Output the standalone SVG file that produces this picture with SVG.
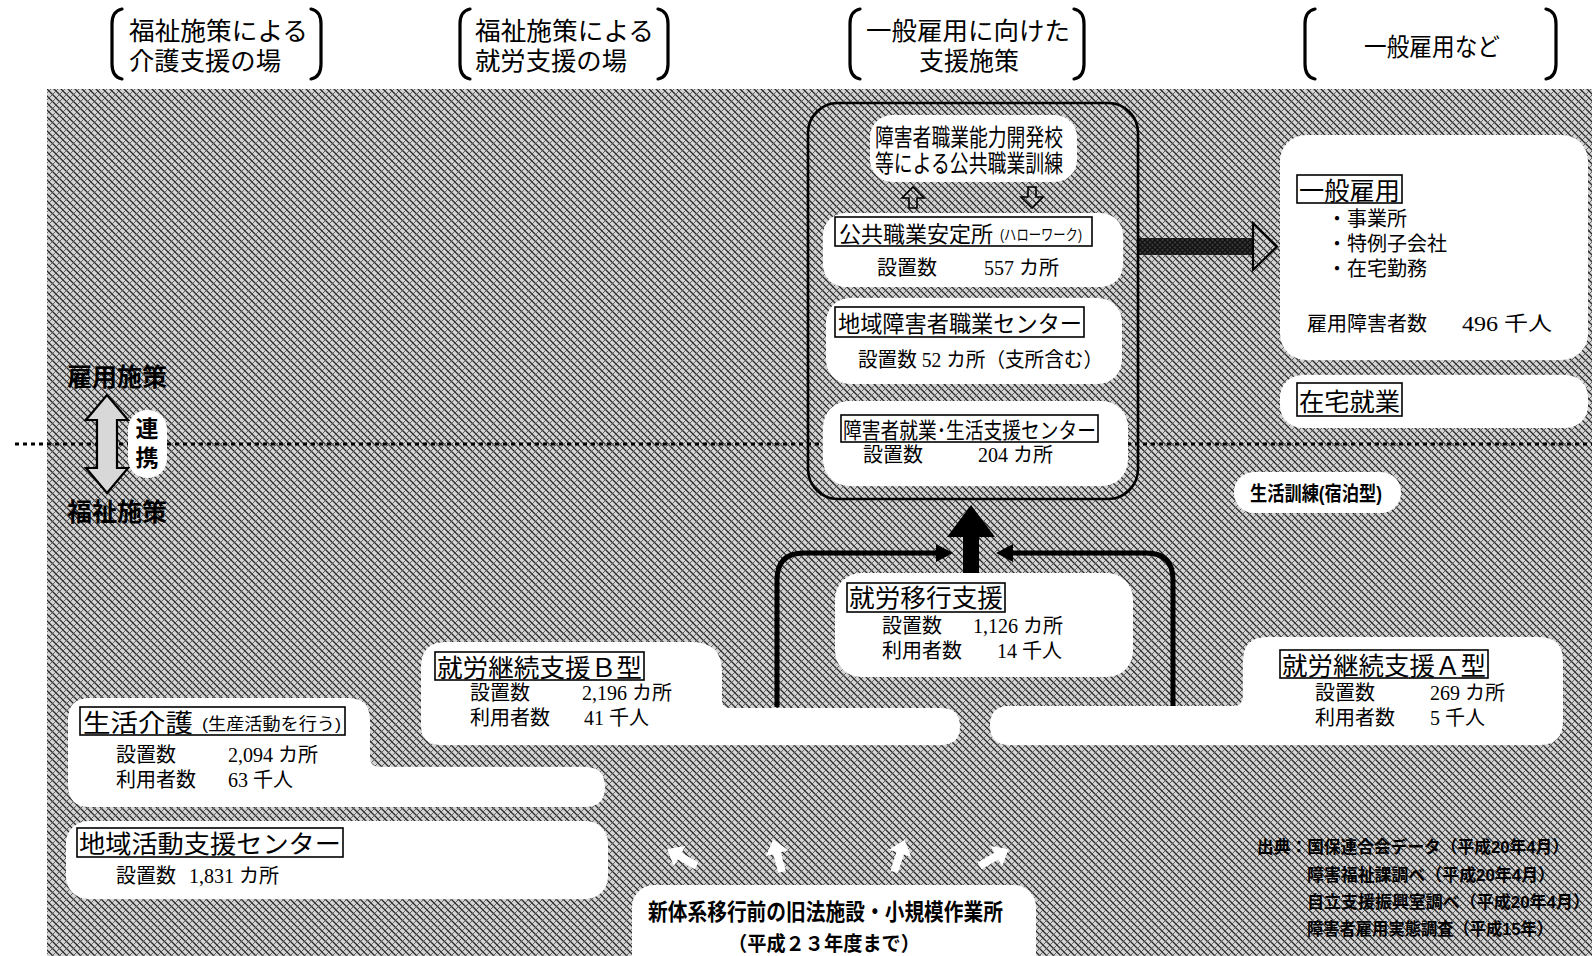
<svg xmlns="http://www.w3.org/2000/svg" width="1592" height="956" viewBox="0 0 1592 956">
<defs>
<pattern id="hatch" width="7" height="7" patternUnits="userSpaceOnUse">
<rect width="7" height="7" fill="#d4d4d4"/>
<path d="M0,0 L7,7 M-1,6 L1,8 M6,-1 L8,1" stroke="#2a2a2a" stroke-width="1.3"/>
<path d="M7,0 L0,7 M-1,1 L1,-1 M6,8 L8,6" stroke="#555" stroke-width="0.9"/>
</pattern>
<pattern id="hatchDark" width="5" height="5" patternUnits="userSpaceOnUse">
<rect width="5" height="5" fill="#3a3a3a"/>
<path d="M0,0 L5,5 M5,0 L0,5" stroke="#111" stroke-width="1.4"/>
</pattern>
<style>
.g{font-family:"Liberation Sans","Noto Sans CJK JP","Noto Sans CJK SC",sans-serif;fill:#000}
.m{font-family:"Liberation Serif","Noto Sans CJK JP",serif;font-size:20px;fill:#000}
.b{font-weight:bold}
.blob{fill:#fff}
.tb{fill:#fff;stroke:#000;stroke-width:1.6}
.br{fill:none;stroke:#000;stroke-width:3.2;stroke-linecap:round}
.ln{fill:none;stroke:#000;stroke-width:5}
.sa{fill:#fff}
</style>
</defs>

<rect width="1592" height="956" fill="#fff"/>
<rect x="47" y="89" width="1545" height="867" fill="url(#hatch)"/>

<!-- headers -->
<g id="hdr1">
<path class="br" d="M122,9 Q112,11 112,24 V64 Q112,77 122,79"/>
<path class="br" d="M311,9 Q321,11 321,24 V64 Q321,77 311,79"/>
<text class="g" font-size="25"><tspan x="129" y="40" textLength="179" lengthAdjust="spacingAndGlyphs">福祉施策による</tspan><tspan x="129" y="70" textLength="152" lengthAdjust="spacingAndGlyphs">介護支援の場</tspan></text>
</g>
<g id="hdr2">
<path class="br" d="M470,9 Q460,11 460,24 V64 Q460,77 470,79"/>
<path class="br" d="M658,9 Q668,11 668,24 V64 Q668,77 658,79"/>
<text class="g" font-size="25"><tspan x="475" y="40" textLength="179" lengthAdjust="spacingAndGlyphs">福祉施策による</tspan><tspan x="475" y="70" textLength="152" lengthAdjust="spacingAndGlyphs">就労支援の場</tspan></text>
</g>
<g id="hdr3">
<path class="br" d="M860,9 Q850,11 850,24 V64 Q850,77 860,79"/>
<path class="br" d="M1074,9 Q1084,11 1084,24 V64 Q1084,77 1074,79"/>
<text class="g" font-size="25"><tspan x="866" y="40" textLength="204" lengthAdjust="spacingAndGlyphs">一般雇用に向けた</tspan><tspan x="919" y="70">支援施策</tspan></text>
</g>
<g id="hdr4">
<path class="br" d="M1315,9 Q1305,11 1305,24 V64 Q1305,77 1315,79"/>
<path class="br" d="M1546,9 Q1556,11 1556,24 V64 Q1556,77 1546,79"/>
<text class="g" x="1364" y="56" font-size="25" textLength="136" lengthAdjust="spacingAndGlyphs">一般雇用など</text>
</g>

<!-- dotted divider -->
<line x1="15" y1="444" x2="1592" y2="444" stroke="#000" stroke-width="3" stroke-dasharray="4 4"/>

<!-- connectors -->
<g id="connectors">
<path class="ln" d="M777,707 V580 Q777,553 804,553 H940"/>
<polygon points="936,544 953,553 936,562" fill="#000"/>
<path class="ln" d="M1173,707 V580 Q1173,553 1146,553 H1009"/>
<polygon points="1013,544 996,553 1013,562" fill="#000"/>
<polygon points="963,575 963,537 947,537 971,505 995,537 979,537 979,575" fill="#000"/>
<rect x="1137" y="238" width="117" height="17" fill="url(#hatchDark)"/>
<polygon points="1253,223 1277,246.5 1253,270" fill="url(#hatch)" stroke="#000" stroke-width="2.2"/>
<polygon points="913,187 902,198 909,198 909,208 917,208 917,198 924,198" fill="url(#hatch)" stroke="#000" stroke-width="1.6"/>
<polygon points="1032,208 1021,197 1028,197 1028,187 1036,187 1036,197 1043,197" fill="url(#hatch)" stroke="#000" stroke-width="1.6"/>
<polygon points="107,395 128,420 117,420 117,468 128,468 107,493 86,468 97,468 97,420 86,420" fill="#d8d8d8" stroke="#000" stroke-width="2.2"/>
<polygon class="sa" transform="translate(683,858) rotate(-60) scale(1.3)" points="0,-14 -9,-3 -3,-3 -3,12 3,12 3,-3 9,-3"/>
<polygon class="sa" transform="translate(778,857) rotate(-15) scale(1.3)" points="0,-14 -9,-3 -3,-3 -3,12 3,12 3,-3 9,-3"/>
<polygon class="sa" transform="translate(899,857) rotate(18) scale(1.3)" points="0,-14 -9,-3 -3,-3 -3,12 3,12 3,-3 9,-3"/>
<polygon class="sa" transform="translate(993,858) rotate(60) scale(1.3)" points="0,-14 -9,-3 -3,-3 -3,12 3,12 3,-3 9,-3"/>
</g>

<!-- central support box -->
<g id="supportBox">
<rect x="808" y="103" width="330" height="396" rx="30" fill="none" stroke="#000" stroke-width="2.6"/>
</g>
<g id="training">
<rect class="blob" x="870" y="115" width="207" height="67" rx="22"/>
<text class="g" font-size="24"><tspan x="875" y="146" textLength="188" lengthAdjust="spacingAndGlyphs">障害者職業能力開発校</tspan><tspan x="875" y="172" textLength="188" lengthAdjust="spacingAndGlyphs">等による公共職業訓練</tspan></text>
</g>
<g id="hellowork">
<rect class="blob" x="823" y="213" width="300" height="74" rx="22"/>
<rect class="tb" x="835" y="217" width="257" height="29"/>
<text class="g" x="839" y="242" font-size="22" textLength="154" lengthAdjust="spacingAndGlyphs">公共職業安定所</text>
<text class="g" x="1000" y="240" font-size="15" textLength="82" lengthAdjust="spacingAndGlyphs">(ハローワーク)</text>
<text class="m" x="877" y="275">設置数</text>
<text class="m" x="984" y="275">557 カ所</text>
</g>
<g id="chiikiCenter">
<rect class="blob" x="826" y="298" width="296" height="86" rx="24"/>
<rect class="tb" x="835" y="307" width="249" height="30"/>
<text class="g" x="838" y="332" font-size="23" textLength="244" lengthAdjust="spacingAndGlyphs">地域障害者職業センター</text>
<text class="m" x="858" y="367" textLength="245" lengthAdjust="spacingAndGlyphs">設置数 52 カ所（支所含む）</text>
</g>
<g id="shugyoCenter">
<rect class="blob" x="823" y="401" width="305" height="85" rx="26"/>
<rect class="tb" x="841" y="415" width="257" height="27"/>
<text class="g" x="843" y="438" font-size="22" textLength="253" lengthAdjust="spacingAndGlyphs">障害者就業･生活支援センター</text>
<text class="m" x="863" y="462">設置数</text>
<text class="m" x="978" y="462">204 カ所</text>
</g>

<!-- employment -->
<g id="ippanKoyo">
<rect class="blob" x="1280" y="135" width="308" height="225" rx="26"/>
<rect class="tb" x="1297" y="175" width="105" height="28"/>
<text class="g" x="1299" y="200" font-size="25" textLength="101" lengthAdjust="spacingAndGlyphs">一般雇用</text>
<text class="g" font-size="20"><tspan x="1327" y="226">・事業所</tspan><tspan x="1327" y="251">・特例子会社</tspan><tspan x="1327" y="276">・在宅勤務</tspan></text>
<text class="m" x="1307" y="331">雇用障害者数</text>
<text class="m" x="1462" y="331" textLength="90" lengthAdjust="spacingAndGlyphs">496 千人</text>
</g>
<g id="zaitaku">
<rect class="blob" x="1280" y="375" width="308" height="53" rx="22"/>
<rect class="tb" x="1297" y="383" width="105" height="33"/>
<text class="g" x="1299" y="411" font-size="25" textLength="101" lengthAdjust="spacingAndGlyphs">在宅就業</text>
</g>
<g id="seikatsuKunren">
<rect class="blob" x="1234" y="472" width="167" height="41" rx="20"/>
<text class="g b" x="1250" y="501" font-size="20" textLength="132" lengthAdjust="spacingAndGlyphs">生活訓練(宿泊型)</text>
</g>

<!-- left labels -->
<g id="renkei">
<text class="g b" x="67" y="386" font-size="25" textLength="100" lengthAdjust="spacingAndGlyphs">雇用施策</text>
<text class="g b" x="67" y="521" font-size="25" textLength="100" lengthAdjust="spacingAndGlyphs">福祉施策</text>
<rect class="blob" x="128" y="410" width="39" height="68" rx="19"/>
<text class="g b" font-size="23" text-anchor="middle"><tspan x="147" y="437">連</tspan><tspan x="147" y="466">携</tspan></text>
</g>

<!-- welfare -->
<g id="ikouShien">
<rect class="blob" x="835" y="573" width="298" height="104" rx="26"/>
<rect class="tb" x="847" y="583" width="158" height="29"/>
<text class="g" x="849" y="607" font-size="25" textLength="154" lengthAdjust="spacingAndGlyphs">就労移行支援</text>
<text class="m"><tspan x="882" y="633">設置数</tspan><tspan x="973" y="633">1,126 カ所</tspan><tspan x="882" y="658">利用者数</tspan><tspan x="997" y="658">14 千人</tspan></text>
</g>
<g id="keizokuB">
<path class="blob" d="M446,642 H692 Q722,642 722,672 V700 Q722,708 730,708 H941 Q960,708 960,726.5 Q960,745 941,745 H441 Q421,745 421,725 V667 Q421,642 446,642 Z"/>
<rect class="tb" x="435" y="652" width="209" height="28"/>
<text class="g" x="437" y="677" font-size="25" textLength="205" lengthAdjust="spacingAndGlyphs">就労継続支援Ｂ型</text>
<text class="m"><tspan x="470" y="700">設置数</tspan><tspan x="582" y="700">2,196 カ所</tspan><tspan x="470" y="725">利用者数</tspan><tspan x="584" y="725">41 千人</tspan></text>
</g>
<g id="keizokuA">
<path class="blob" d="M1267,637 H1539 Q1563,637 1563,661 V721 Q1563,745 1539,745 H1009 Q990,745 990,725.5 Q990,706 1009,706 H1233 Q1243,706 1243,696 V661 Q1243,637 1267,637 Z"/>
<rect class="tb" x="1280" y="650" width="208" height="28"/>
<text class="g" x="1282" y="675" font-size="25" textLength="204" lengthAdjust="spacingAndGlyphs">就労継続支援Ａ型</text>
<text class="m"><tspan x="1315" y="700">設置数</tspan><tspan x="1430" y="700">269 カ所</tspan><tspan x="1315" y="725">利用者数</tspan><tspan x="1430" y="725">5 千人</tspan></text>
</g>
<g id="seikatsuKaigo">
<path class="blob" d="M90,698 H348 Q370,698 370,720 V757 Q370,767 380,767 H585 Q605,767 605,787 Q605,807 585,807 H90 Q68,807 68,785 V720 Q68,698 90,698 Z"/>
<rect class="tb" x="80" y="707" width="265" height="28"/>
<text class="g" x="83" y="732" font-size="25" textLength="110" lengthAdjust="spacingAndGlyphs">生活介護</text>
<text class="g" x="202" y="730" font-size="17" textLength="139" lengthAdjust="spacingAndGlyphs">(生産活動を行う)</text>
<text class="m"><tspan x="116" y="762">設置数</tspan><tspan x="228" y="762">2,094 カ所</tspan><tspan x="116" y="787">利用者数</tspan><tspan x="228" y="787">63 千人</tspan></text>
</g>
<g id="chiikiKatsudo">
<rect class="blob" x="66" y="821" width="542" height="78" rx="22"/>
<rect class="tb" x="77" y="828" width="266" height="29"/>
<text class="g" x="79" y="853" font-size="25" textLength="262" lengthAdjust="spacingAndGlyphs">地域活動支援センター</text>
<text class="m"><tspan x="116" y="883">設置数</tspan><tspan x="189" y="883">1,831 カ所</tspan></text>
</g>
<g id="kyuhou">
<rect class="blob" x="632" y="885" width="404" height="95" rx="22"/>
<text class="g b"><tspan x="648" y="920" font-size="23" textLength="355" lengthAdjust="spacingAndGlyphs">新体系移行前の旧法施設・小規模作業所</tspan><tspan x="728" y="951" font-size="20" textLength="192" lengthAdjust="spacingAndGlyphs">（平成２３年度まで）</tspan></text>
</g>

<!-- source note -->
<g id="source">
<text class="g b" font-size="17" fill="#111"><tspan x="1257" y="853" textLength="312" lengthAdjust="spacingAndGlyphs">出典：国保連合会データ（平成20年4月）</tspan><tspan x="1307" y="881" textLength="248" lengthAdjust="spacingAndGlyphs">障害福祉課調べ（平成20年4月）</tspan><tspan x="1307" y="908" textLength="283" lengthAdjust="spacingAndGlyphs">自立支援振興室調べ（平成20年4月）</tspan><tspan x="1307" y="935" textLength="246" lengthAdjust="spacingAndGlyphs">障害者雇用実態調査（平成15年）</tspan></text>
</g>
</svg>
